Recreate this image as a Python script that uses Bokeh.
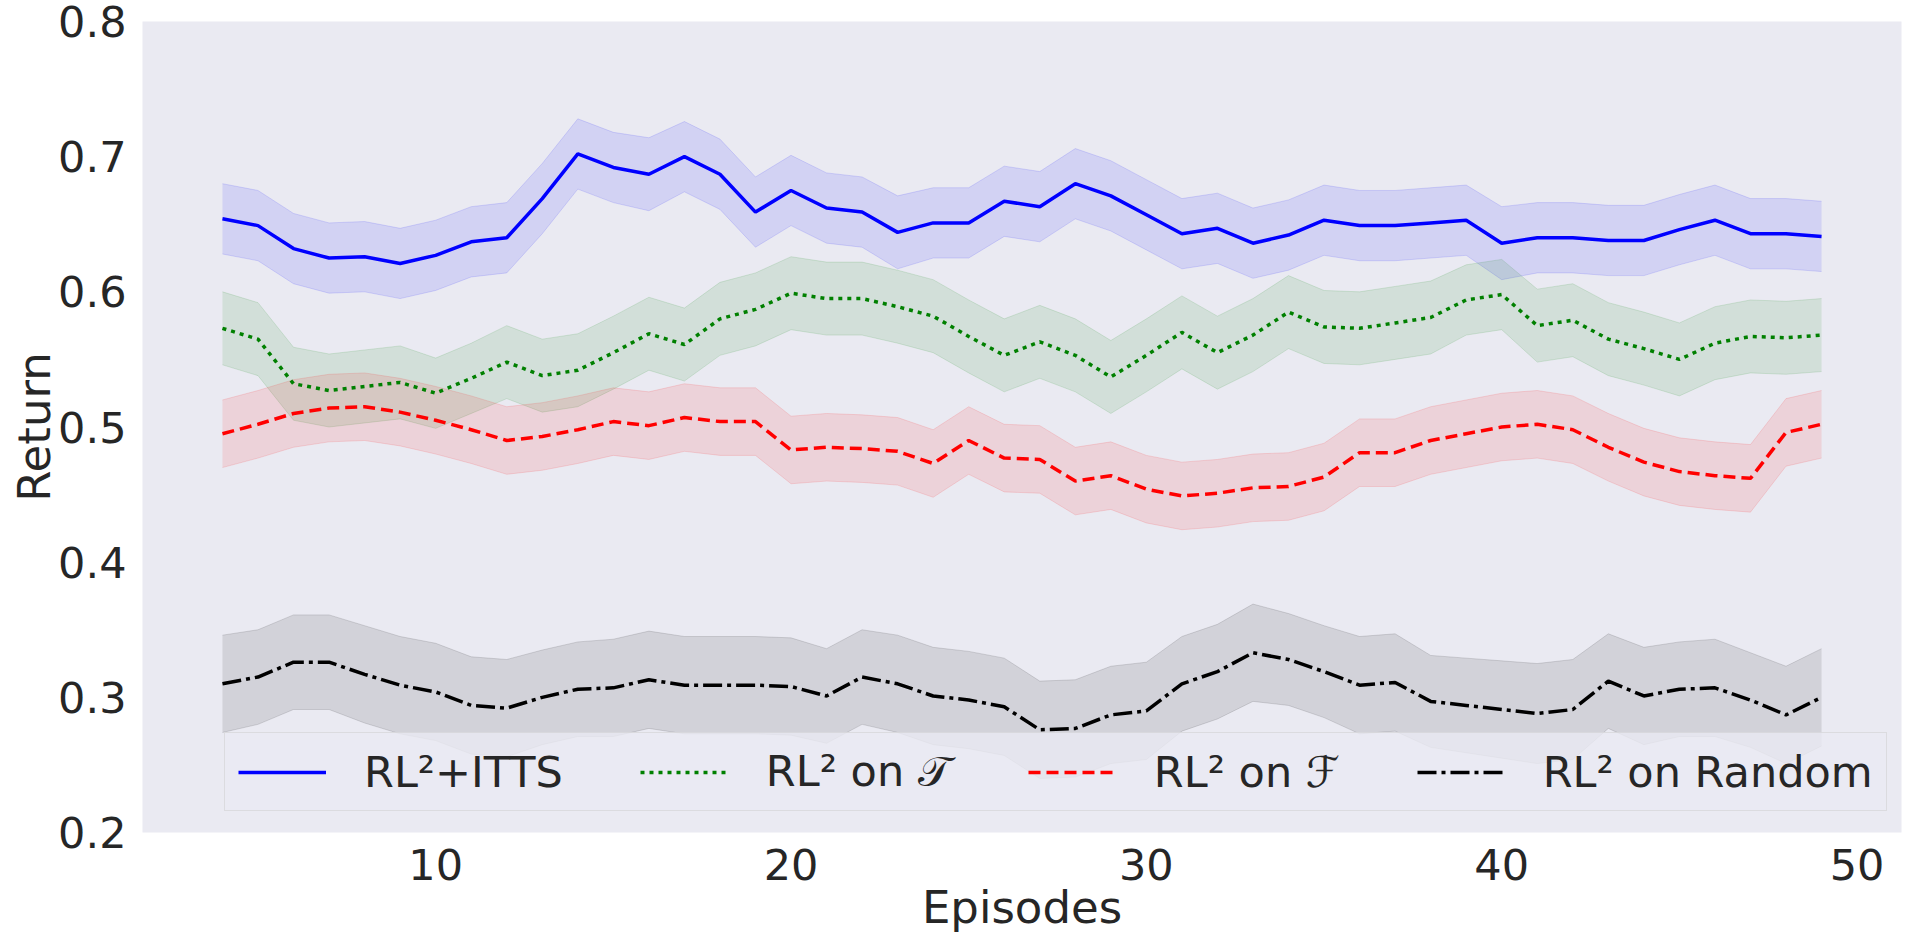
from bokeh.plotting import figure
from bokeh.models import Range1d, FixedTicker, Legend, LegendItem, ColumnDataSource
from bokeh.embed import file_html
from bokeh.resources import INLINE

episodes = list(range(4, 50))

itts_mean = [0.654, 0.649, 0.632, 0.625, 0.626, 0.621, 0.627, 0.637, 0.640, 0.669,
             0.702, 0.692, 0.687, 0.700, 0.687, 0.659, 0.675, 0.662, 0.659, 0.644,
             0.651, 0.651, 0.667, 0.663, 0.680, 0.671, 0.657, 0.643, 0.647, 0.636,
             0.642, 0.653, 0.649, 0.649, 0.651, 0.653, 0.636, 0.640, 0.640, 0.638,
             0.638, 0.646, 0.653, 0.643, 0.643, 0.641]
itts_ci = [0.026, 0.026, 0.026, 0.026, 0.026, 0.026, 0.026, 0.026, 0.026, 0.026,
           0.026, 0.026, 0.027, 0.026, 0.026, 0.026, 0.026, 0.026, 0.026, 0.027,
           0.026, 0.026, 0.026, 0.026, 0.026, 0.026, 0.026, 0.026, 0.026, 0.026,
           0.026, 0.026, 0.026, 0.026, 0.026, 0.026, 0.027, 0.026, 0.026, 0.026,
           0.026, 0.026, 0.026, 0.026, 0.026, 0.026]

t_mean = [0.573, 0.565, 0.532, 0.527, 0.530, 0.533, 0.525, 0.536, 0.548, 0.538,
          0.542, 0.555, 0.569, 0.561, 0.580, 0.587, 0.599, 0.595, 0.595, 0.589,
          0.582, 0.567, 0.553, 0.563, 0.553, 0.537, 0.553, 0.570, 0.555, 0.568,
          0.585, 0.574, 0.573, 0.577, 0.581, 0.594, 0.598, 0.575, 0.579, 0.565,
          0.558, 0.550, 0.562, 0.567, 0.566, 0.568]
t_ci = [0.027, 0.027, 0.027, 0.027, 0.027, 0.027, 0.026, 0.026, 0.027, 0.027,
        0.027, 0.027, 0.027, 0.027, 0.027, 0.027, 0.027, 0.027, 0.027, 0.027,
        0.027, 0.027, 0.027, 0.027, 0.027, 0.027, 0.027, 0.027, 0.027, 0.027,
        0.027, 0.027, 0.027, 0.027, 0.027, 0.026, 0.026, 0.027, 0.027, 0.027,
        0.027, 0.027, 0.027, 0.027, 0.027, 0.027]

f_mean = [0.495, 0.502, 0.510, 0.514, 0.515, 0.511, 0.505, 0.498, 0.490, 0.493,
          0.498, 0.504, 0.501, 0.507, 0.504, 0.504, 0.483, 0.485, 0.484, 0.482,
          0.473, 0.490, 0.477, 0.476, 0.460, 0.464, 0.454, 0.449, 0.451, 0.455,
          0.456, 0.463, 0.481, 0.481, 0.490, 0.495, 0.500, 0.502, 0.498, 0.485,
          0.474, 0.467, 0.464, 0.462, 0.496, 0.502]
f_ci = [0.025, 0.025, 0.025, 0.025, 0.025, 0.025, 0.025, 0.025, 0.025, 0.025,
        0.025, 0.025, 0.025, 0.025, 0.025, 0.025, 0.025, 0.025, 0.025, 0.025,
        0.025, 0.025, 0.025, 0.025, 0.025, 0.025, 0.025, 0.025, 0.025, 0.025,
        0.025, 0.025, 0.025, 0.025, 0.025, 0.025, 0.025, 0.025, 0.025, 0.025,
        0.025, 0.025, 0.025, 0.025, 0.025, 0.025]

rand_mean = [0.310, 0.315, 0.326, 0.326, 0.317, 0.309, 0.304, 0.294, 0.292, 0.300,
             0.306, 0.307, 0.313, 0.309, 0.309, 0.309, 0.308, 0.301, 0.315, 0.310,
             0.301, 0.298, 0.293, 0.276, 0.277, 0.287, 0.290, 0.310, 0.319, 0.333,
             0.328, 0.319, 0.309, 0.311, 0.297, 0.294, 0.291, 0.288, 0.291, 0.312,
             0.301, 0.306, 0.307, 0.298, 0.287, 0.300]
rand_ci = [0.036, 0.035, 0.035, 0.035, 0.036, 0.036, 0.036, 0.036, 0.036, 0.035,
           0.035, 0.036, 0.036, 0.036, 0.036, 0.036, 0.036, 0.035, 0.035, 0.036,
           0.036, 0.036, 0.036, 0.036, 0.036, 0.036, 0.036, 0.035, 0.035, 0.036,
           0.034, 0.034, 0.036, 0.036, 0.034, 0.035, 0.036, 0.037, 0.037, 0.035,
           0.036, 0.035, 0.036, 0.035, 0.036, 0.036]

labels = ["RL\u00b2+ITTS", "RL\u00b2 on \U0001D4AF", "RL\u00b2 on \u2131", "RL\u00b2 on Random"]
colors = ["#0000FF", "#008000", "#FF0000", "#000000"]
dashes = ["solid", "4 5", "12 6", "19 5 4 5"]
means = [itts_mean, t_mean, f_mean, rand_mean]
cis = [itts_ci, t_ci, f_ci, rand_ci]

x_ticks = [10, 20, 30, 40, 50]
y_ticks = [0.2, 0.3, 0.4, 0.5, 0.6, 0.7, 0.8]

FONT = "DejaVu Sans"
TXT = "#262626"

p = figure(width=1904, height=936, output_backend="svg", toolbar_location=None,
           x_range=Range1d(1.75, 51.25), y_range=Range1d(0.2, 0.8),
           min_border_left=142, min_border_right=3, min_border_top=21, min_border_bottom=100,
           background_fill_color="#EAEAF2", border_fill_color="white", outline_line_color=None)
p.grid.visible = False

renderers = []
for m, c, col in zip(means, cis, colors):
    lo = [a - b for a, b in zip(m, c)]
    hi = [a + b for a, b in zip(m, c)]
    src = ColumnDataSource(dict(x=episodes, y=m, lo=lo, hi=hi))
    p.varea(x="x", y1="lo", y2="hi", source=src, fill_color=col, fill_alpha=0.1)
    p.line(x="x", y="lo", source=src, line_color=col, line_alpha=0.12, line_width=1)
    p.line(x="x", y="hi", source=src, line_color=col, line_alpha=0.12, line_width=1)
for m, col, dash in zip(means, colors, dashes):
    r = p.line(x=episodes, y=m, line_color=col, line_width=3.5, line_dash=dash)
    renderers.append(r)

for ax in (p.xaxis[0], p.yaxis[0]):
    ax.axis_line_color = None
    ax.major_tick_line_color = None
    ax.minor_tick_line_color = None
    ax.major_tick_out = 0
    ax.major_tick_in = 0
    ax.major_label_text_font = FONT
    ax.major_label_text_font_size = "43px"
    ax.major_label_text_color = TXT
    ax.axis_label_text_font = FONT
    ax.axis_label_text_font_size = "45px"
    ax.axis_label_text_font_style = "normal"
    ax.axis_label_text_color = TXT

p.xaxis.ticker = FixedTicker(ticks=x_ticks)
p.yaxis.ticker = FixedTicker(ticks=y_ticks)
p.xaxis.axis_label = "Episodes"
p.yaxis.axis_label = "Return"
p.xaxis.major_label_standoff = 16
p.xaxis.axis_label_standoff = -2
p.yaxis.major_label_standoff = 16
p.yaxis.axis_label_standoff = -6

legend = Legend(items=[LegendItem(label=l, renderers=[r]) for l, r in zip(labels, renderers)],
                orientation="horizontal", location=(82, 21), margin=0, padding=13,
                spacing=77, glyph_width=88, glyph_height=40, label_standoff=38,
                label_text_font=FONT, label_text_font_size="43px", label_text_color=TXT,
                background_fill_color="#EAEAF2", background_fill_alpha=0.8,
                border_line_color="#CCCCCC", border_line_width=1.5)
p.add_layout(legend, "center")

open("out.html", "w").write(file_html(p, INLINE))
